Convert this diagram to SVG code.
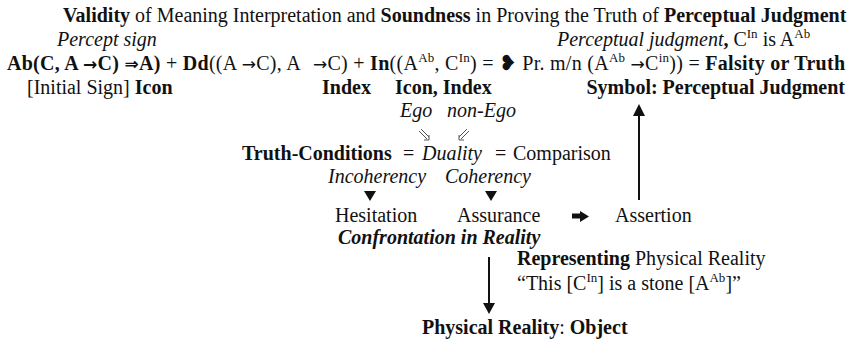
<svg xmlns="http://www.w3.org/2000/svg" width="860" height="343" viewBox="0 0 860 343">
<style>
text{font-family:"Liberation Serif","Times New Roman",serif;font-size:20px;fill:#111}
.b{font-weight:bold}
.i{font-style:italic}
.sup{font-size:13px}
.sym{font-family:"DejaVu Sans",sans-serif;font-size:17px}
.heart{font-family:"DejaVu Sans",sans-serif;font-size:21px}
.ln{stroke:#111;stroke-width:2;fill:none}
.thin{stroke:#555;stroke-width:1;fill:none}
.head{fill:#111}
</style>
<rect width="860" height="343" fill="#fff"/>
<g id="title">
<text x="63" y="22"><tspan class="b">Validity</tspan> of Meaning Interpretation and <tspan class="b">Soundness</tspan> in Proving the Truth of <tspan class="b">Perceptual Judgment</tspan></text>
</g>
<g id="percept-sign">
<text x="57" y="46" class="i">Percept sign</text>
</g>
<g id="perceptual-judgment-label">
<text x="557" y="46"><tspan class="i">Perceptual judgment</tspan><tspan class="b">,</tspan> C<tspan class="sup" dy="-8">In</tspan><tspan dy="8"> is A</tspan><tspan class="sup" dy="-8">Ab</tspan></text>
</g>
<g id="formula">
<text x="7" y="70" textLength="838" lengthAdjust="spacing"><tspan class="b">Ab(C, A <tspan class="sym">→</tspan>C) <tspan class="sym">⇒</tspan>A)</tspan> + <tspan class="b">Dd</tspan>((A <tspan class="sym">→</tspan>C), A<tspan dx="12" class="sym">→</tspan>C) + <tspan class="b">In</tspan>((A<tspan class="sup" dy="-8">Ab</tspan><tspan dy="8">, C</tspan><tspan class="sup" dy="-8">In</tspan><tspan dy="8">) = </tspan><tspan class="heart">❥</tspan> Pr. m/n (A<tspan class="sup" dy="-8">Ab</tspan><tspan dy="8"> </tspan><tspan class="sym">→</tspan>C<tspan class="sup" dy="-8">in</tspan><tspan dy="8">)) = </tspan><tspan class="b">Falsity or Truth</tspan></text>
</g>
<g id="sign-types">
<text x="27" y="94">[Initial Sign] <tspan class="b">Icon</tspan></text>
<text x="322" y="94" class="b">Index</text>
<text x="395" y="94" class="b">Icon, Index</text>
<text x="845" y="94" class="b" text-anchor="end">Symbol: Perceptual Judgment</text>
</g>
<g id="ego">
<text x="400" y="117" class="i" font-size="19">Ego</text>
<text x="447" y="117" class="i" font-size="19">non-Ego</text>
</g>
<g id="truth-conditions">
<text x="242" y="160"><tspan class="b">Truth-Conditions</tspan></text>
<text x="403" y="160">=</text>
<text x="422" y="160" class="i">Duality</text>
<text x="495" y="160">=</text>
<text x="513" y="160">Comparison</text>
</g>
<g id="coherency">
<text x="328" y="183" class="i">Incoherency</text>
<text x="445" y="183" class="i">Coherency</text>
</g>
<g id="hesitation"><text x="335" y="222">Hesitation</text></g>
<g id="assurance"><text x="457" y="222">Assurance</text></g>
<g id="assertion"><text x="615" y="222">Assertion</text></g>
<g id="confrontation"><text x="338" y="244" class="b i">Confrontation in Reality</text></g>
<g id="representing">
<text x="517" y="265"><tspan class="b">Representing</tspan> Physical Reality</text>
<text x="517" y="290">“This [C<tspan class="sup" dy="-8">In</tspan><tspan dy="8">] is a stone [A</tspan><tspan class="sup" dy="-8">Ab</tspan><tspan dy="8">]”</tspan></text>
</g>
<g id="physical-reality">
<text x="422" y="334"><tspan class="b">Physical Reality</tspan>: <tspan class="b">Object</tspan></text>
</g>
<g id="connectors">
<path class="thin" d="M419 131 L427 139 M421 129 L429 137 M424 140 L429 140 L429 135"/>
<path class="thin" d="M469 131 L461 139 M467 129 L459 137 M459 135 L459 140 L464 140"/>
<polygon class="head" points="364,191 376,191 370,201"/>
<polygon class="head" points="485,191 497,191 491,201"/>
<path d="M572 216 H581" stroke="#111" stroke-width="5"/>
<polygon class="head" points="580,211 589,216.5 580,222"/>
<line class="ln" x1="639" y1="200" x2="639" y2="114"/>
<polygon class="head" points="633,116 645,116 639,104"/>
<line class="ln" x1="489" y1="257" x2="489" y2="304"/>
<polygon class="head" points="483,303 495,303 489,314"/>
</g>
</svg>
